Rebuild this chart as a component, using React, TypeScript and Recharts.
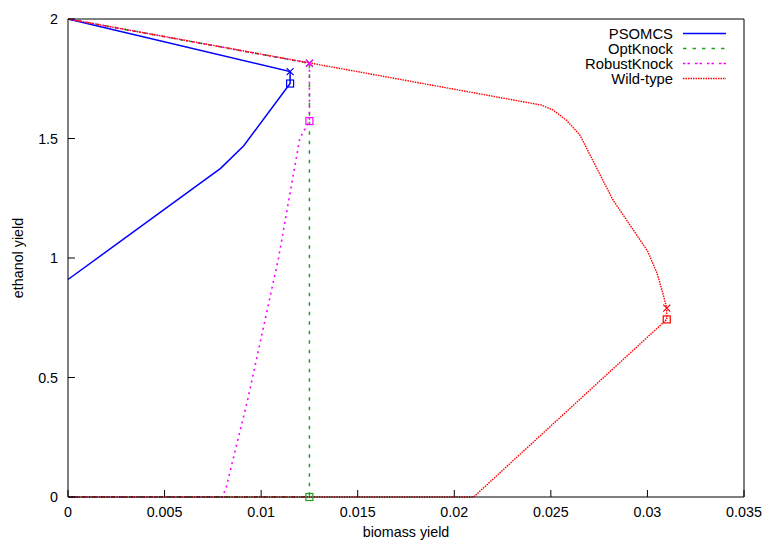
import React from "react";
import {
  ComposedChart,
  Line,
  Scatter,
  XAxis,
  YAxis,
  ReferenceLine,
} from "recharts";

const xTicks = [0, 0.005, 0.01, 0.015, 0.02, 0.025, 0.03, 0.035];
const yTicks = [0, 0.5, 1, 1.5, 2];

const psomcs = [
  { x: 0, y: 2 },
  { x: 0.0115, y: 1.78 },
  { x: 0.0115, y: 1.73 },
  { x: 0.0091, y: 1.47 },
  { x: 0.0079, y: 1.375 },
  { x: 0.0068, y: 1.31 },
  { x: 0, y: 0.91 },
];
const optKnock = [
  { x: 0, y: 2 },
  { x: 0.0125, y: 1.815 },
  { x: 0.0125, y: 0 },
  { x: 0, y: 0 },
];
const robustKnock = [
  { x: 0, y: 2 },
  { x: 0.0125, y: 1.815 },
  { x: 0.0125, y: 1.573 },
  { x: 0.012, y: 1.5 },
  { x: 0.0109, y: 1.0 },
  { x: 0.0093, y: 0.406 },
  { x: 0.0082, y: 0.043 },
  { x: 0.008, y: 0 },
  { x: 0, y: 0 },
];
const wildType = [
  { x: 0, y: 2 },
  { x: 0.0245, y: 1.64 },
  { x: 0.0251, y: 1.62 },
  { x: 0.0258, y: 1.577 },
  { x: 0.0265, y: 1.515 },
  { x: 0.0282, y: 1.245 },
  { x: 0.03, y: 1.03 },
  { x: 0.0305, y: 0.936 },
  { x: 0.0308, y: 0.852 },
  { x: 0.031, y: 0.79 },
  { x: 0.031, y: 0.743 },
  { x: 0.021, y: 0 },
  { x: 0, y: 0 },
];

// max / min ethanol at the max biomass point of each design
const psomcsMax = [{ x: 0.0115, y: 1.78 }];
const psomcsMin = [{ x: 0.0115, y: 1.73 }];
const optKnockMax = [{ x: 0.0125, y: 1.815 }];
const optKnockMin = [{ x: 0.0125, y: 0 }];
const robustKnockMax = [{ x: 0.0125, y: 1.815 }];
const robustKnockMin = [{ x: 0.0125, y: 1.573 }];
const wildTypeMax = [{ x: 0.031, y: 0.79 }];
const wildTypeMin = [{ x: 0.031, y: 0.743 }];

const BLUE = "#0000ff";
const GREEN = "#22a022";
const MAGENTA = "#ff00ff";
const RED = "#ff0000";
const FONT = "'Liberation Sans', Arial, Helvetica, sans-serif";

const series = [
  { name: "PSOMCS", color: BLUE, dash: undefined, width: 1.5 },
  { name: "OptKnock", color: GREEN, dash: "3.5 6", width: 1.5 },
  { name: "RobustKnock", color: MAGENTA, dash: "2.5 2 2.5 5", width: 1.5 },
  { name: "Wild-type", color: RED, dash: "1.5 1", width: 1.4 },
];

const cross = (color: string) => (p: any) => (
  <path
    d={`M${p.cx - 3.5},${p.cy - 3.5}L${p.cx + 3.5},${p.cy + 3.5}M${p.cx - 3.5},${p.cy + 3.5}L${p.cx + 3.5},${p.cy - 3.5}`}
    stroke={color}
    strokeWidth={1.2}
    fill="none"
  />
);
const square = (color: string) => (p: any) => (
  <rect x={p.cx - 3.5} y={p.cy - 3.5} width={7} height={7} stroke={color} strokeWidth={1.2} fill="none" />
);

const XTick = (p: any) => (
  <g>
    <line x1={p.x} x2={p.x} y1={p.y} y2={p.y - 7} stroke="#000" />
    <text x={p.x} y={p.y + 15} textAnchor="middle" dominantBaseline="central" fontSize={14.3} fontFamily={FONT} fill="#000">
      {p.payload.value}
    </text>
  </g>
);
const YTick = (p: any) => (
  <g>
    <line x1={p.x} x2={p.x + 7} y1={p.y} y2={p.y} stroke="#000" />
    <text x={p.x - 10} y={p.y} textAnchor="end" dominantBaseline="central" fontSize={14.3} fontFamily={FONT} fill="#000">
      {p.payload.value}
    </text>
  </g>
);

const LegendBox = () => (
  <svg width={180} height={64} style={{ position: "absolute", left: 560, top: 25 }}>
    {series.map((s, i) => (
      <g key={s.name}>
        <text x={113} y={8.5 + i * 15} textAnchor="end" dominantBaseline="central" fontSize={14.8} fontFamily={FONT} fill="#000">
          {s.name}
        </text>
        <line x1={123} x2={166} y1={8.5 + i * 15} y2={8.5 + i * 15} stroke={s.color} strokeWidth={s.width} strokeDasharray={s.dash} />
      </g>
    ))}
  </svg>
);

export default function App() {
  return (
    <div style={{ position: "absolute", left: 0, top: 0, width: 767, height: 541, background: "#fff" }}>
      <ComposedChart width={767} height={541} margin={{ top: 19, right: 23, left: 0, bottom: 0 }}>
        <XAxis
          dataKey="x"
          type="number"
          domain={[0, 0.035]}
          ticks={xTicks}
          height={44}
          tickSize={0}
          tickMargin={0}
          tickLine={false}
          tick={<XTick />}
          axisLine={{ stroke: "#000" }}
          interval={0}
          label={{ value: "biomass yield", position: "insideBottom", offset: 4, fontSize: 14.3, fontFamily: FONT, fill: "#000" }}
        />
        <YAxis
          dataKey="y"
          type="number"
          domain={[0, 2]}
          ticks={yTicks}
          width={68}
          tickSize={0}
          tickMargin={0}
          tickLine={false}
          tick={<YTick />}
          axisLine={{ stroke: "#000" }}
          interval={0}
          label={{
            content: ({ viewBox }: any) => (
              <text
                x={viewBox.x + 18}
                y={viewBox.y + viewBox.height / 2}
                transform={`rotate(-90 ${viewBox.x + 18} ${viewBox.y + viewBox.height / 2})`}
                textAnchor="middle"
                dominantBaseline="central"
                fontSize={14.3}
                fontFamily={FONT}
                fill="#000"
              >
                ethanol yield
              </text>
            ),
          }}
        />
        <ReferenceLine y={2} stroke="#000" />
        <ReferenceLine x={0.035} stroke="#000" />
        <Line data={psomcs} dataKey="y" type="linear" stroke={BLUE} strokeWidth={1.5} dot={false} isAnimationActive={false} />
        <Line data={optKnock} dataKey="y" type="linear" stroke={GREEN} strokeWidth={1.5} strokeDasharray="3.5 6" dot={false} isAnimationActive={false} />
        <Line data={robustKnock} dataKey="y" type="linear" stroke={MAGENTA} strokeWidth={1.6} strokeDasharray="2 4" dot={false} isAnimationActive={false} />
        <Line data={wildType} dataKey="y" type="linear" stroke={RED} strokeWidth={1.4} strokeDasharray="1.5 1" dot={false} isAnimationActive={false} />
        <Scatter data={psomcsMax} dataKey="y" shape={cross(BLUE)} isAnimationActive={false} />
        <Scatter data={psomcsMin} dataKey="y" shape={square(BLUE)} isAnimationActive={false} />
        <Scatter data={optKnockMax} dataKey="y" shape={cross(GREEN)} isAnimationActive={false} />
        <Scatter data={optKnockMin} dataKey="y" shape={square(GREEN)} isAnimationActive={false} />
        <Scatter data={robustKnockMax} dataKey="y" shape={cross(MAGENTA)} isAnimationActive={false} />
        <Scatter data={robustKnockMin} dataKey="y" shape={square(MAGENTA)} isAnimationActive={false} />
        <Scatter data={wildTypeMax} dataKey="y" shape={cross(RED)} isAnimationActive={false} />
        <Scatter data={wildTypeMin} dataKey="y" shape={square(RED)} isAnimationActive={false} />
      </ComposedChart>
      <LegendBox />
    </div>
  );
}
